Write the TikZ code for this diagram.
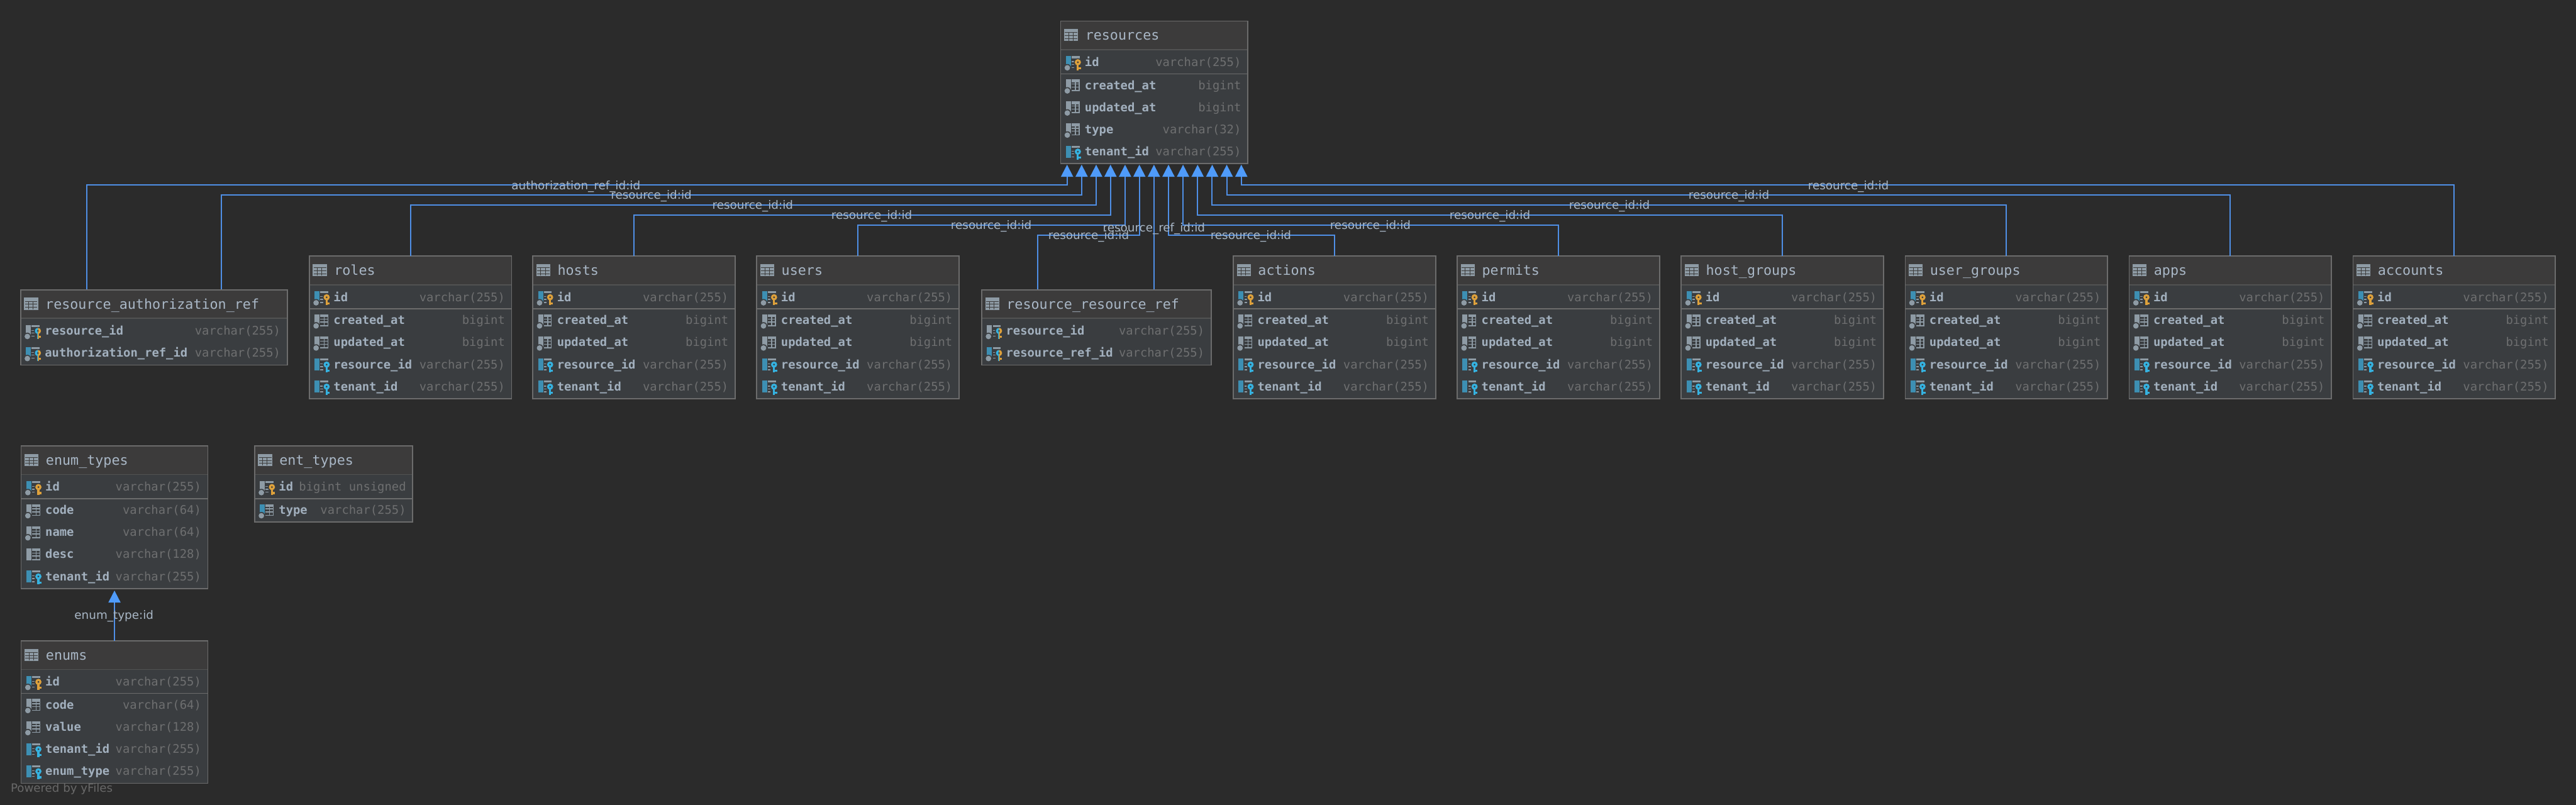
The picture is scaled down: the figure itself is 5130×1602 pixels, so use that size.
\documentclass[tikz,border=0pt]{standalone}
\usepackage{fontspec}
\usetikzlibrary{arrows.meta}
\newfontfamily\monof{DejaVu Sans Mono}
\newfontfamily\labelf{DejaVu Sans}
\definecolor{bgc}{HTML}{2B2B2B}
\definecolor{headc}{HTML}{3C3B3B}
\definecolor{bodyc}{HTML}{3A3D40}
\definecolor{borderc}{HTML}{6C6C6C}
\definecolor{hsepc}{HTML}{525252}
\definecolor{linec}{HTML}{4F8FE6}
\definecolor{tipc}{HTML}{4F9BFA}
\definecolor{txtc}{HTML}{A9B7C6}
\definecolor{namec}{HTML}{A2B0BE}
\definecolor{typec}{HTML}{6E6F70}
\definecolor{goldc}{HTML}{DEA13B}
\definecolor{keyc}{HTML}{35B2E0}
\definecolor{tealc}{HTML}{3D8FB3}
\definecolor{greyc}{HTML}{8E9BA5}
\definecolor{powc}{HTML}{686868}
\tikzset{
  x=0.5pt,y=-0.5pt,
  dbbox/.style={draw=borderc,line width=1.1pt,fill=bodyc,inner sep=0pt,anchor=north west,outer sep=0pt},
  rowname/.style={anchor=base west,inner sep=0pt,text=namec,font=\monof\bfseries\fontsize{11.8pt}{14pt}\selectfont},
  rowtype/.style={anchor=base east,inner sep=0pt,text=typec,font=\monof\fontsize{11.8pt}{14pt}\selectfont},
  dbtitle/.style={anchor=base west,inner sep=0pt,text=txtc,font=\monof\fontsize{13.6pt}{16pt}\selectfont},
  fk/.style={draw=linec,line width=1.25pt,-{Triangle[length=12pt,width=12pt,color=tipc]}},
  fklabel/.style={anchor=base,inner sep=0pt,text=txtc,font=\labelf\fontsize{11.5pt}{14pt}\selectfont},
  powered/.style={anchor=base west,inner sep=0pt,text=powc,font=\labelf\fontsize{11.4pt}{14pt}\selectfont},
}
\newcount\rowcnt
% key drawn in local icon coordinates
\newcommand{\keyshape}[1]{%
  \fill[#1,even odd rule] (35.5,0) circle[radius=6.2] (35.5,0) circle[radius=2.2];
  \fill[#1] (33.5,5) rectangle (37.5,16);
  \fill[#1] (37,10) rectangle (41.5,14);
}
\newcommand{\keyhalo}{%
  \fill[bodyc] (35.5,0) circle[radius=8];
  \fill[bodyc] (32,5) rectangle (43,17);
}
\newcommand{\keyn}{}
\newcommand{\keyp}{\keyhalo\keyshape{goldc}}
\newcommand{\keyf}{\keyhalo\keyshape{keyc}}
\newcommand{\keyb}{\keyhalo
  \begin{scope}\clip (25,-10) rectangle (35.5,20);\keyshape{keyc}\end{scope}
  \begin{scope}\clip (35.5,-10) rectangle (45,20);\keyshape{goldc}\end{scope}
}
\newcommand{\circc}{%
  \fill[bodyc] (14.5,11) circle[radius=7.5];
  \fill[greyc] (14.5,11) circle[radius=5.5];
}
\newcommand{\circn}{}
\newcommand{\gridfull}{%
  \fill[greyc] (23,-12) rectangle (39,-6.5);
  \fill[greyc] (23,-3.5) rectangle (39,-1.8);
  \fill[greyc] (23,2.5) rectangle (39,4.2);
  \fill[greyc] (23,9.5) rectangle (39,11.5);
  \fill[greyc] (30,-7) rectangle (31.6,11);
  \fill[greyc] (37.4,-7) rectangle (39,11);
}
\newcommand{\gridkey}{%
  \fill[greyc] (23,-12) rectangle (39,-8);
  \fill[greyc] (23,-2) rectangle (28.5,-0.3);
  \fill[greyc] (23,3.5) rectangle (28.5,5.2);
  \fill[greyc] (23,9.5) rectangle (28.5,11.2);
}
% {cy}{name}{type}{bar colour}{c|n}{n|p|f|b}
\newcommand{\dbrow}[6]{%
  \global\advance\rowcnt by 1
  \begin{scope}[shift={(\tl,{\tt+#1})}]
    \fill[#4] (11.5,-12) rectangle (21.5,12);
    \csname circ#5\endcsname
    \ifx n#6\relax\gridfull\else\gridkey\fi
    \csname key#6\endcsname
  \end{scope}
  \node[rowname] (n\the\rowcnt) at ({\tl+49},{\tt+#1+8}) {#2};
  \node[rowtype] (t\the\rowcnt) at ({\tr-14},{\tt+#1+8}) {#3};
}
% {node name}{left}{top}{right}{bottom}{title}
\newcommand{\dbtable}[6]{%
  \def\tl{#2}\def\tt{#3}\def\tr{#4}%
  \node[dbbox,minimum width={(#4-#2-2.2)*0.5pt},minimum height={(#5-#3-2.2)*0.5pt}] (#1) at ({#2+1.1},{#3+1.1}) {};
  \fill[headc] ({#2+2.2},{#3+2.2}) rectangle ({#4-2.2},{#3+58});
  \fill[hsepc] ({#2+2.2},{#3+57}) rectangle ({#4-2.2},{#3+59});
  \fill[greyc] ({#2+8},{#3+17}) rectangle ({#2+36},{#3+41});
  \draw[headc,line width=0.6pt]
    ({#2+9.5},{#3+24}) -- ({#2+34.5},{#3+24})
    ({#2+9.5},{#3+30}) -- ({#2+34.5},{#3+30})
    ({#2+9.5},{#3+36}) -- ({#2+34.5},{#3+36})
    ({#2+17},{#3+24}) -- ({#2+17},{#3+40})
    ({#2+26},{#3+24}) -- ({#2+26},{#3+40});
  \node[dbtitle] (#1-title) at ({#2+50},{#3+39}) {#6};
}
\newcommand{\pksep}{\fill[borderc] ({\tl+2.2},{\tt+105}) rectangle ({\tr-2.2},{\tt+107});}
\newcommand{\stdtable}[3]{% {node}{left}{title}
  \dbtable{#1}{#2}{509}{\numexpr#2+405\relax}{795}{#3}
  \pksep
  \dbrow{83}{id}{varchar(255)}{tealc}{c}{p}
  \dbrow{129}{created\_at}{bigint}{greyc}{c}{n}
  \dbrow{173}{updated\_at}{bigint}{greyc}{c}{n}
  \dbrow{217}{resource\_id}{varchar(255)}{tealc}{n}{f}
  \dbrow{261}{tenant\_id}{varchar(255)}{tealc}{n}{f}
}
% {start}{level}{tip}
\newcommand{\fklink}[3]{\draw[fk] (#1) -- (#1 |- 0,#2) -- (#3 |- 0,#2) -- (#3);}
\begin{document}
\begin{tikzpicture}
\useasboundingbox (0,0) rectangle (5130,1602);
\fill[bgc] (-10,-10) rectangle (5140,1612);

% tables
\dbtable{resources}{2111}{41}{2486}{327}{resources}
\pksep
\dbrow{83}{id}{varchar(255)}{tealc}{c}{p}
\dbrow{129}{created\_at}{bigint}{greyc}{c}{n}
\dbrow{173}{updated\_at}{bigint}{greyc}{c}{n}
\dbrow{217}{type}{varchar(32)}{greyc}{c}{n}
\dbrow{261}{tenant\_id}{varchar(255)}{tealc}{n}{f}

\dbtable{raref}{40}{576}{573}{728}{resource\_authorization\_ref}
\dbrow{83}{resource\_id}{varchar(255)}{greyc}{c}{b}
\dbrow{127}{authorization\_ref\_id}{varchar(255)}{tealc}{c}{b}

\dbtable{rrref}{1954}{576}{2413}{728}{resource\_resource\_ref}
\dbrow{83}{resource\_id}{varchar(255)}{greyc}{c}{b}
\dbrow{127}{resource\_ref\_id}{varchar(255)}{tealc}{c}{b}

\stdtable{roles}{615}{roles}
\stdtable{hosts}{1060}{hosts}
\stdtable{users}{1506}{users}
\stdtable{actions}{2455}{actions}
\stdtable{permits}{2901}{permits}
\stdtable{hostgroups}{3347}{host\_groups}
\stdtable{usergroups}{3793}{user\_groups}
\stdtable{apps}{4239}{apps}
\stdtable{accounts}{4685}{accounts}

\dbtable{enumtypes}{41}{887}{415}{1173}{enum\_types}
\pksep
\dbrow{83}{id}{varchar(255)}{tealc}{c}{p}
\dbrow{129}{code}{varchar(64)}{greyc}{c}{n}
\dbrow{173}{name}{varchar(64)}{greyc}{c}{n}
\dbrow{217}{desc}{varchar(128)}{greyc}{n}{n}
\dbrow{261}{tenant\_id}{varchar(255)}{tealc}{n}{f}

\dbtable{enttypes}{506}{887}{823}{1041}{ent\_types}
\pksep
\dbrow{83}{id}{}{greyc}{c}{p}
\node[rowtype,text=typec] (enttypes-idtype) at (809,978) {bigint unsigned};
\dbrow{129}{type}{varchar(255)}{tealc}{c}{n}

\dbtable{enums}{41}{1275}{415}{1561}{enums}
\pksep
\dbrow{83}{id}{varchar(255)}{tealc}{c}{p}
\dbrow{129}{code}{varchar(64)}{greyc}{c}{n}
\dbrow{173}{value}{varchar(128)}{greyc}{c}{n}
\dbrow{217}{tenant\_id}{varchar(255)}{tealc}{n}{f}
\dbrow{261}{enum\_type}{varchar(255)}{tealc}{n}{f}

% connector ends
\coordinate (a1) at (2125,328);
\coordinate (a2) at (2154,328);
\coordinate (a3) at (2183,328);
\coordinate (a4) at (2211.5,328);
\coordinate (a5) at (2240.5,328);
\coordinate (a6) at (2269,328);
\coordinate (a7) at (2298,328);
\coordinate (a8) at (2327,328);
\coordinate (a9) at (2356,328);
\coordinate (a10) at (2385,328);
\coordinate (a11) at (2414,328);
\coordinate (a12) at (2443,328);
\coordinate (a13) at (2472,328);
\coordinate (ra1) at (173,576);
\coordinate (ra2) at (441,576);
\coordinate (rr1) at (2067,576);
\coordinate (rr2) at (2298,576);
\coordinate (et) at (228,1176);

\fklink{ra1}{368}{a1}
\fklink{ra2}{388}{a2}
\fklink{roles.north}{408}{a3}
\fklink{hosts.north}{428}{a4}
\fklink{users.north}{448}{a5}
\fklink{rr1}{468}{a6}
\draw[fk] (rr2) -- (a7);
\fklink{actions.north}{468}{a8}
\fklink{permits.north}{448}{a9}
\fklink{hostgroups.north}{428}{a10}
\fklink{usergroups.north}{408}{a11}
\fklink{apps.north}{388}{a12}
\fklink{accounts.north}{368}{a13}
\draw[fk] (enums.north) -- (et);

% connector labels
\node[fklabel] (l1) at (1147,377) {authorization\_ref\_id:id};
\node[fklabel] (l2) at (1297,397) {resource\_id:id};
\node[fklabel] (l3) at (1499,417) {resource\_id:id};
\node[fklabel] (l4) at (1736,437) {resource\_id:id};
\node[fklabel] (l5) at (1974,457) {resource\_id:id};
\node[fklabel] (l6) at (2168,477) {resource\_id:id};
\node[fklabel] (l7) at (2298,461) {resource\_ref\_id:id};
\node[fklabel] (l8) at (2491,477) {resource\_id:id};
\node[fklabel] (l9) at (2729,457) {resource\_id:id};
\node[fklabel] (l10) at (2967,437) {resource\_id:id};
\node[fklabel] (l11) at (3205,417) {resource\_id:id};
\node[fklabel] (l12) at (3443,397) {resource\_id:id};
\node[fklabel] (l13) at (3681,377) {resource\_id:id};
\node[fklabel] (l14) at (227,1233) {enum\_type:id};

\node[powered] (yfiles) at (21,1578) {Powered by yFiles};
\end{tikzpicture}
\end{document}
